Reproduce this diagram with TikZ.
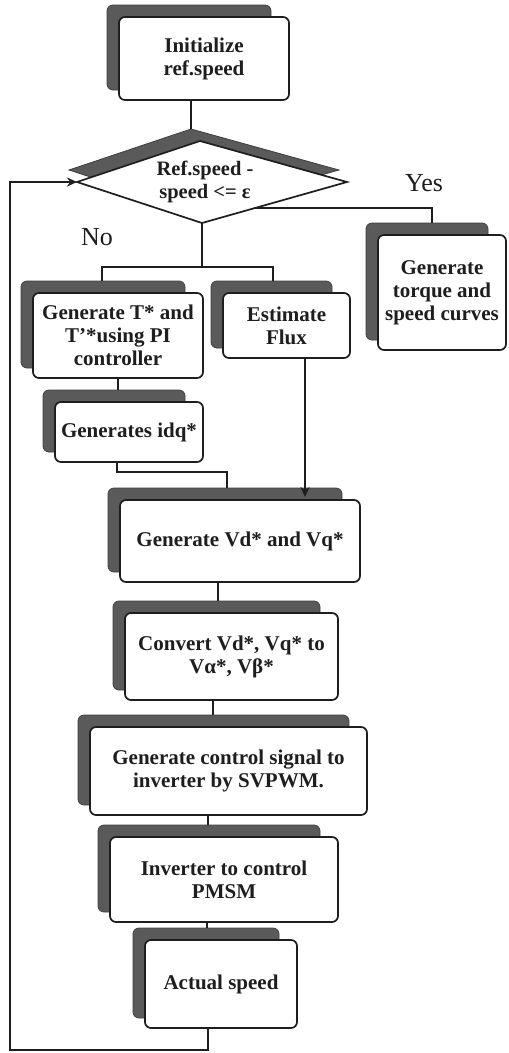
\documentclass[tikz,border=0pt]{standalone}
\usepackage{fontspec}
\setmainfont{Liberation Serif}
\usetikzlibrary{arrows.meta}
\definecolor{ink}{HTML}{1E1E1E}
\definecolor{shade}{HTML}{5A5A5A}
\tikzset{
 box/.style={draw=ink, line width=1.7pt, rounded corners=6pt, fill=white, align=center, inner sep=2pt, font=\bfseries\fontsize{21}{23}\selectfont, text=ink},
 shadowbox/.style={fill=shade, draw=black!75, line width=0.8pt, rounded corners=6pt},
 conn/.style={draw=ink, line width=1.8pt},
 arr/.style={conn, -{Stealth[length=10pt,width=9pt]}},
 lbl/.style={font=\fontsize{26}{28}\selectfont, text=ink},
 dtxt/.style={align=center, font=\bfseries\fontsize{20.5}{23}\selectfont, text=ink},
}
\newcommand\shbox[6]{%
 \path[shadowbox] (#2-12,-#3+12) rectangle (#4-18,-#5+10);
 \node[box, minimum width={#4-#2}, minimum height={#5-#3}] (#1) at ({(#2+#4)/2},{-(#3+#5)/2}) {#6};}
\begin{document}
\begin{tikzpicture}[x=1pt,y=1pt]
\useasboundingbox[fill=white] (0,0) rectangle (509,-1053);
% boxes
\shbox{init}{119}{17}{289}{100}{Initialize\\ref.speed}
\shbox{torque}{378}{235}{506}{350}{Generate\\torque and\\speed curves}
\shbox{pi}{33}{293}{203}{378}{Generate T* and\\T'*using PI\\controller}
\shbox{flux}{223}{293}{350}{358}{Estimate\\Flux}
\shbox{idq}{55}{402}{203}{462}{Generates idq*}
\shbox{vd}{120}{500}{360}{582}{Generate Vd* and Vq*}
\shbox{conv}{125}{613}{338}{700}{Convert Vd*, Vq* to\\Vα*, Vβ*}
\shbox{svp}{90}{727}{367}{815}{Generate control signal to\\inverter by SVPWM.}
\shbox{inv}{110}{837}{338}{922}{Inverter to control\\PMSM}
\shbox{act}{145}{940}{297}{1028}{Actual speed}
% decision
\coordinate (dT) at (200,-141);
\coordinate (dR) at (347,-182);
\coordinate (dB) at (202,-223);
\coordinate (dL) at (77,-182);
\coordinate (dsT) at (191,-129);
\path[shadowbox, rounded corners=0pt] (dsT) -- (339,-170) -- (194,-211) -- (69,-170) -- cycle;
\draw[ink, fill=white, line width=1.7pt] (dT) -- (dR) -- (dB) -- (dL) -- cycle;
\node[dtxt] (dtext) at (205,-182) {Ref.speed -\\speed <= ε};
% labels
\node[lbl] (yes) at (424,-183) {Yes};
\node[lbl] (no) at (97,-237) {No};
% coordinates
\coordinate (jC) at (202,-267);
\coordinate (jL) at (102,-267);
\coordinate (jR) at (273,-267);
\coordinate (piT) at (102,-281);
\coordinate (fxT) at (273,-281);
\coordinate (yS) at (254,-208);
\coordinate (yC) at (432,-208);
\coordinate (tqT) at (432,-223);
\coordinate (idqT) at (118,-390);
\coordinate (m1) at (117,-472);
\coordinate (m2) at (227,-472);
\coordinate (vdT) at (227,-488);
\coordinate (fxA) at (305,-497);
\coordinate (cT) at (218,-601);
\coordinate (sT) at (213,-715);
\coordinate (iT) at (208,-825);
\coordinate (aT) at (207,-928);
\coordinate (lb1) at (208,-1050);
\coordinate (lb2) at (10,-1050);
\coordinate (lb3) at (10,-182);
% connectors
\draw[conn] (init.south -| dsT) -- (dsT);
\draw[conn] (dB) -- (jC);
\draw[conn] (piT) -- (jL) -- (jR) -- (fxT);
\draw[conn] (yS) -- (yC) -- (tqT);
\draw[conn] (pi.south) -- (idqT);
\draw[conn] (idq.south -| m1) -- (m1) -- (m2) -- (vdT);
\draw[arr] (flux.south -| fxA) -- (fxA);
\draw[conn] (vd.south -| cT) -- (cT);
\draw[conn] (conv.south -| sT) -- (sT);
\draw[conn] (svp.south -| iT) -- (iT);
\draw[conn] (inv.south -| aT) -- (aT);
\draw[arr] (act.south -| lb1) -- (lb1) -- (lb2) -- (lb3) -- (dL);
\end{tikzpicture}
\end{document}
